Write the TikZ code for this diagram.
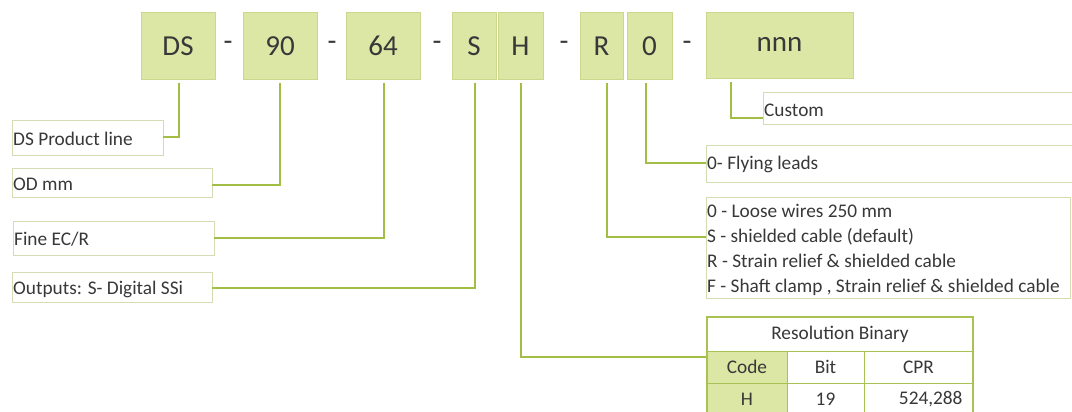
\documentclass[tikz,border=0pt]{standalone}
\usepackage{fontspec}
\setmainfont{Carlito}
\definecolor{codefill}{HTML}{DCE7A6}
\definecolor{codeedge}{HTML}{C9D88C}
\definecolor{wire}{HTML}{A3BE45}
\definecolor{labeledge}{HTML}{D3DDB4}
\definecolor{tabedge}{HTML}{A9C253}
\definecolor{ink}{HTML}{383838}
\tikzset{
  codebox/.style={draw=codeedge, fill=codefill, line width=0.8pt, text=ink, font=\fontsize{29}{32}\selectfont},
  sep/.style={text=ink, font=\fontsize{29}{32}\selectfont},
  labelbox/.style={draw=labeledge, fill=white, line width=1pt, text=ink, font=\fontsize{19.3}{22}\selectfont},
  labeltext/.style={text=ink, font=\fontsize{19.3}{22}\selectfont, anchor=west, inner sep=0pt},
  conn/.style={draw=wire, line width=1.8pt},
  cell/.style={text=ink, font=\fontsize{19.3}{22}\selectfont, anchor=center}
}
\begin{document}
\begin{tikzpicture}[x=1pt,y=-1pt]
\useasboundingbox (0,0) rectangle (1072,412);
\fill[white] (0,0) rectangle (1072,412);

% code segments
\path[codebox] (141,12) rectangle (215,79);
\path[codebox] (243,12) rectangle (317,79);
\path[codebox] (346,12) rectangle (420,79);
\path[codebox] (452,12) rectangle (496,79);
\path[codebox] (498,12) rectangle (543,79);
\path[codebox] (580,12) rectangle (623,79);
\path[codebox] (627,12) rectangle (672,79);
\path[codebox] (706,12) rectangle (853,78);
\node[sep] (cDS) at (178,46) {DS};
\node[sep] (c90) at (280,46) {90};
\node[sep] (c64) at (383,46) {64};
\node[sep] (cS)  at (474,46) {S};
\node[sep] (cH)  at (520.5,46) {H};
\node[sep] (cR)  at (601.5,46) {R};
\node[sep] (c0)  at (649.5,46) {0};
\node[sep] (cN)  at (779.5,44) {nnn};
\node[sep] (d1) at (228,46) {-};
\node[sep] (d2) at (332,46) {-};
\node[sep] (d3) at (437,46) {-};
\node[sep] (d4) at (564,46) {-};
\node[sep] (d5) at (687,46) {-};

% anchor points below each segment
\coordinate (tDS) at (179,83);
\coordinate (t90) at (280,83);
\coordinate (t64) at (384,83);
\coordinate (tS)  at (475,83);
\coordinate (tH)  at (521,83);
\coordinate (tR)  at (607,83);
\coordinate (t0)  at (646,83);
\coordinate (tN)  at (731,82);

% left-hand labels
\path[labelbox] (12,121) rectangle (163,155);
\node[labeltext] (lDS) at (13,139) {DS Product line};
\path[labelbox] (12,168) rectangle (212,197);
\node[labeltext] (l90) at (13,184) {OD mm};
\path[labelbox] (13,221) rectangle (214,255);
\node[labeltext] (l64) at (14,239) {Fine EC/R};
\path[labelbox] (12,272) rectangle (212,302);
\node[labeltext] (lS) at (13,289) {Outputs: S- Digital SSi};

% right-hand labels
\path[labelbox] (763,93) rectangle (1080,124);
\node[labeltext] (lN) at (764,110) {Custom};
\path[labelbox] (706,145) rectangle (1080,182);
\node[labeltext] (l0) at (707,164) {0- Flying leads};
\path[labelbox] (706,197) rectangle (1070,298);
\node[labeltext, anchor=north west, align=left,
      font=\fontsize{19.3}{25}\selectfont] (lR) at (707,204)
  {0 - Loose wires 250 mm\\S - shielded cable (default)\\R - Strain relief \& shielded cable\\F - Shaft clamp , Strain relief \& shielded cable};

% resolution table
\fill[codefill] (707,351) rectangle (787,415);
\draw[tabedge, line width=0.8pt] (707,351) -- (973,351);
\draw[tabedge, line width=0.8pt] (707,383) -- (973,383);
\draw[tabedge, line width=0.8pt] (787,351) -- (787,415);
\draw[tabedge, line width=0.8pt] (864,351) -- (864,415);
\draw[tabedge, line width=1.8pt] (707,415) -- (707,317) -- (973,317) -- (973,415);
\node[cell] (tTitle) at (840,334) {Resolution Binary};
\node[cell] (hCode) at (747,367) {Code};
\node[cell] (hBit)  at (825.5,367) {Bit};
\node[cell] (hCPR)  at (918.5,367) {CPR};
\node[cell] (vCode) at (747,399) {H};
\node[cell] (vBit)  at (825.5,399) {19};
\node[cell, anchor=east] (vCPR) at (966,399) {524,288};
\coordinate (tab) at (706,357);

% connectors
\draw[conn] (tDS) |- (163,137);
\draw[conn] (t90) |- (212,185);
\draw[conn] (t64) |- (214,238);
\draw[conn] (tS)  |- (212,288);
\draw[conn] (tH)  |- (tab);
\draw[conn] (tR)  |- (706,237);
\draw[conn] (t0)  |- (706,163);
\draw[conn] (tN)  |- (763,118);
\end{tikzpicture}
\end{document}
